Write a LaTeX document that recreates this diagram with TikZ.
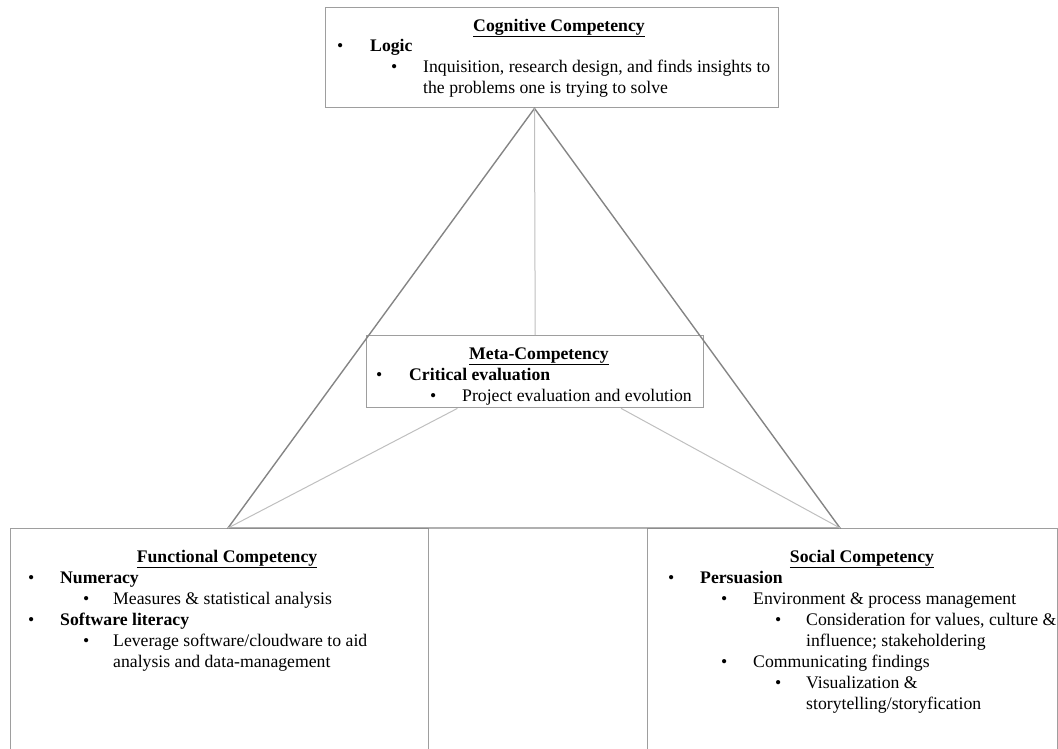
\documentclass[tikz,border=0pt]{standalone}
\usepackage{fontspec}
\setmainfont{Liberation Serif}
\usetikzlibrary{calc}
\begin{document}
\begin{tikzpicture}[x=1pt,y=-1pt,
  box/.style={draw=black!38, line width=1.4pt, fill=none, inner sep=0pt, anchor=north west},
  side/.style={draw=black!48, line width=1.4pt},
  spoke/.style={draw=black!25, line width=1pt},
  txt/.style={inner sep=0pt, anchor=base west, font=\fontsize{17.7}{21}\selectfont},
  head/.style={txt, anchor=base}]
\useasboundingbox (0,0) rectangle (1058,748);
\clip (0,0) rectangle (1058,748);

% competency boxes
\node[box, minimum width=453pt, minimum height=100pt] (cog) at (325,7) {};
\node[box, minimum width=337pt, minimum height=72pt] (meta) at (366,335) {};
\node[box, minimum width=418pt, minimum height=240pt] (func) at (10,528) {};
\node[box, minimum width=410pt, minimum height=240pt] (soc) at (647,528) {};

% triangle corners: apex under the top box, base on the lower boxes
\coordinate (apex) at ($(cog.south west)!0.461!(cog.south east)$);
\coordinate (fl) at (228,528);
\coordinate (fr) at (840,528);

% triangle and spokes
\draw[side] (apex) -- (fl) -- (fr) -- cycle;
\draw[spoke] (apex) -- (meta.north);
\draw[spoke] ($(meta.south west)!0.27!(meta.south east)$) -- (fl);
\draw[spoke] ($(meta.south west)!0.754!(meta.south east)$) -- (fr);

% Cognitive Competency
\node[head] (cogH) at (559,31) {\underline{\textbf{Cognitive Competency}}};
\node[txt] (cogB1) at (337,51) {•};
\node[txt] (cogL1) at (370,51) {\textbf{Logic}};
\node[txt] (cogB2) at (391,72) {•};
\node[txt] (cogL2) at (423,72) {Inquisition, research design, and finds insights to};
\node[txt] (cogL3) at (423,93) {the problems one is trying to solve};

% Meta-Competency
\node[head] (metaH) at (539,359) {\underline{\textbf{Meta-Competency}}};
\node[txt] (metaB1) at (376,380) {•};
\node[txt] (metaL1) at (409,380) {\textbf{Critical evaluation}};
\node[txt] (metaB2) at (430,401) {•};
\node[txt] (metaL2) at (462,401) {Project evaluation and evolution};

% Functional Competency
\node[head] (funcH) at (227,562) {\underline{\textbf{Functional Competency}}};
\node[txt] (funcB1) at (28,583) {•};
\node[txt] (funcL1) at (60,583) {\textbf{Numeracy}};
\node[txt] (funcB2) at (83,604) {•};
\node[txt] (funcL2) at (113,604) {Measures \& statistical analysis};
\node[txt] (funcB3) at (28,625) {•};
\node[txt] (funcL3) at (60,625) {\textbf{Software literacy}};
\node[txt] (funcB4) at (83,646) {•};
\node[txt] (funcL4) at (113,646) {Leverage software/cloudware to aid};
\node[txt] (funcL5) at (113,667) {analysis and data-management};

% Social Competency
\node[head] (socH) at (862,562) {\underline{\textbf{Social Competency}}};
\node[txt] (socB1) at (668,583) {•};
\node[txt] (socL1) at (700,583) {\textbf{Persuasion}};
\node[txt] (socB2) at (721,604) {•};
\node[txt] (socL2) at (753,604) {Environment \& process management};
\node[txt] (socB3) at (775,625) {•};
\node[txt] (socL3) at (806,625) {Consideration for values, culture \&};
\node[txt] (socL4) at (806,646) {influence; stakeholdering};
\node[txt] (socB4) at (721,667) {•};
\node[txt] (socL5) at (753,667) {Communicating findings};
\node[txt] (socB5) at (775,688) {•};
\node[txt] (socL6) at (806,688) {Visualization \&};
\node[txt] (socL7) at (806,709) {storytelling/storyfication};
\end{tikzpicture}
\end{document}
